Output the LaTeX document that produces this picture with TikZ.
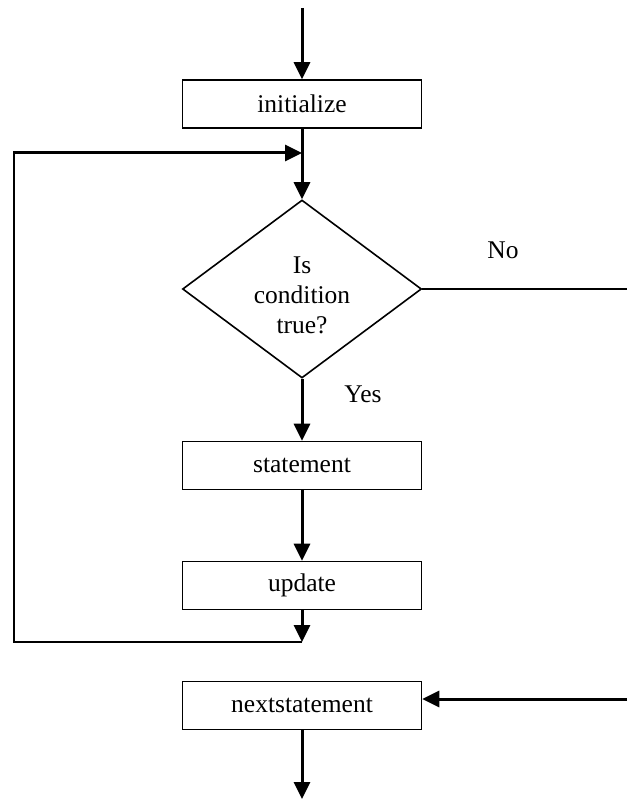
\documentclass[tikz,border=0pt]{standalone}
\usepackage{fontspec}
\setmainfont{Liberation Serif}
\usetikzlibrary{arrows.meta,shapes.geometric}

\tikzset{
  flow/.style={line width=3pt, -{Triangle[length=17pt,width=16pt]}},
  plain/.style={line width=1.8pt},
  stepbox/.style={draw, line width=1.6pt, minimum width=239pt, minimum height=48pt,
    inner sep=0pt, font=\fontsize{25.5}{30}\selectfont},
  decision/.style={draw, diamond, line width=1.6pt, minimum width=239pt,
    minimum height=178pt, inner sep=0pt},
  lbl/.style={font=\fontsize{25.5}{30}\selectfont, inner sep=0pt}
}

\begin{document}
\begin{tikzpicture}[x=1pt, y=-1pt]
  \useasboundingbox (0,0) rectangle (627,799);

  % process steps
  \node[stepbox] (init) at (302,104) {initialize};
  \node[decision] (cond) at (302,289) {};
  \node[lbl, align=center] (condtxt) at (302,295) {Is\\condition\\true?};
  \node[stepbox] (stmt) at (302,465.5) {statement};
  \node[stepbox] (upd)  at (302,585.5) {update};
  \node[stepbox] (next) at (302,705.5) {nextstatement};

  % branch labels
  \node[lbl] (no)  at (503,250) {No};
  \node[lbl] (yes) at (363,394) {Yes};

  % free ends and bends
  \coordinate (entry)  at (302,8);
  \coordinate (exit)   at (302,799);
  \coordinate (join)   at (302,153);
  \coordinate (back)   at (302,642);
  \coordinate (lbot)   at (14,642);
  \coordinate (ltop)   at (14,153);
  \coordinate (noend)  at (627,289);
  \coordinate (nostart) at (627,699);

  % main flow
  \draw[flow] (entry) -- (init.north);
  \draw[flow] (init.south) -- (cond.north);
  \draw[flow] (cond.south) -- (stmt.north);
  \draw[flow] (stmt.south) -- (upd.north);
  \draw[flow] (upd.south) -- (back);

  % loop back to the condition
  \draw[plain] (back) -- (lbot) -- ([yshift=-0.6pt]ltop);
  \draw[flow] ([xshift=-0.9pt]ltop) -- (join);

  % exit when the condition is false
  \draw[plain] (cond.east) -- (noend);
  \draw[flow] (nostart) -- (nostart -| next.east);
  \draw[flow] (next.south) -- (exit);
\end{tikzpicture}
\end{document}
